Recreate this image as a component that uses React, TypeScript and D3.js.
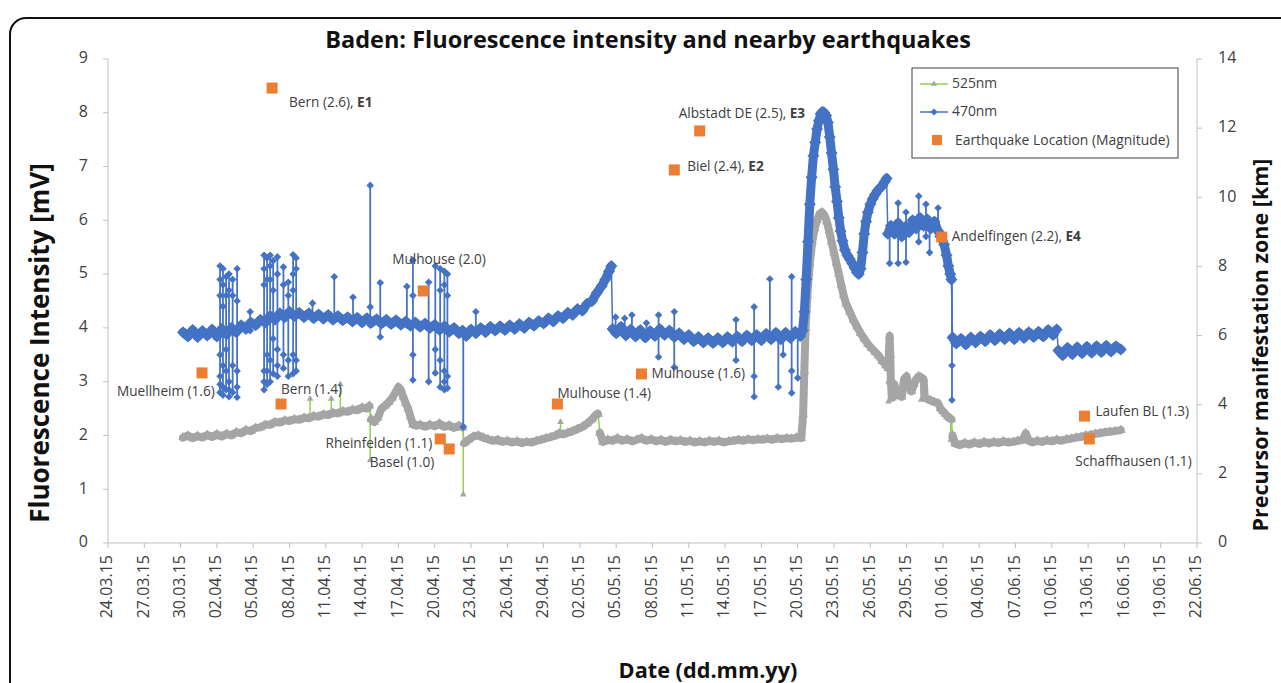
import React from "react";
import * as d3 from "d3";

const W = 1281;
const H = 683;
const M = { left: 108, right: 1197, top: 59, bottom: 543 };
const START = Date.UTC(2015, 2, 24);
const DAY = 864e5;
const FONT = "'Open Sans', 'DejaVu Sans', sans-serif";

// x values are days after 24.03.15
const tickDays = d3.range(0, 91, 3);
const leftTicks = [0, 1, 2, 3, 4, 5, 6, 7, 8, 9];
const rightTicks = [0, 2, 4, 6, 8, 10, 12, 14];

// 470nm fluorescence [mV]
const nm470: [number, number][] = [
  [6.2, 3.92], [6.6, 3.84], [7.0, 3.96], [7.4, 3.83], [7.8, 3.94], [8.2, 3.86], [8.6, 3.97], [9.0, 3.84],
  [9.4, 3.98], [9.8, 3.88], [10.2, 4.0], [10.6, 3.92], [11.0, 4.05], [11.4, 3.98], [11.8, 4.1], [12.2, 4.05],
  [12.6, 4.15], [13.0, 4.1], [13.4, 4.22], [13.8, 4.15], [14.2, 4.27], [14.6, 4.2], [15.0, 4.3], [15.4, 4.22],
  [15.8, 4.28], [16.2, 4.2], [16.6, 4.27], [17.0, 4.18], [17.4, 4.25], [17.8, 4.17], [18.2, 4.24], [18.6, 4.15],
  [19.0, 4.22], [19.4, 4.14], [19.8, 4.2], [20.2, 4.12], [20.6, 4.19], [21.0, 4.1], [21.4, 4.18], [21.8, 4.1],
  [22.2, 4.16], [22.6, 4.08], [23.0, 4.15], [23.4, 4.07], [23.8, 4.14], [24.2, 4.06], [24.6, 4.12], [25.0, 4.04],
  [25.4, 4.1], [25.8, 4.02], [26.2, 4.08], [26.6, 4.0], [27.0, 4.06], [27.4, 3.96], [27.8, 4.03], [28.2, 3.93],
  [28.6, 4.0], [29.0, 3.9], [29.3, 3.95], [29.6, 3.85], [30.0, 3.97], [30.4, 3.9], [30.8, 4.0], [31.2, 3.92],
  [31.6, 4.02], [32.0, 3.95], [32.4, 4.03], [32.8, 3.96], [33.2, 4.05], [33.6, 3.98], [34.0, 4.07], [34.4, 4.0],
  [34.8, 4.1], [35.2, 4.04], [35.6, 4.13], [36.0, 4.08], [36.4, 4.18], [36.8, 4.12], [37.2, 4.22], [37.6, 4.18],
  [38.0, 4.28], [38.4, 4.24], [38.8, 4.35], [39.2, 4.32], [39.6, 4.45], [40.0, 4.5], [40.4, 4.65], [40.8, 4.78],
  [41.1, 4.9], [41.4, 5.05], [41.6, 5.15], [41.7, 3.98], [42.0, 3.9], [42.4, 4.02], [42.8, 3.86], [43.2, 3.97],
  [43.6, 3.84], [44.0, 3.96], [44.4, 3.82], [44.8, 3.94], [45.2, 3.85], [45.6, 3.98], [46.0, 3.87], [46.4, 3.95],
  [46.8, 3.83], [47.2, 3.9], [47.6, 3.79], [48.0, 3.87], [48.4, 3.75], [48.8, 3.83], [49.2, 3.73], [49.6, 3.81],
  [50.0, 3.72], [50.4, 3.81], [50.8, 3.73], [51.2, 3.83], [51.6, 3.74], [52.0, 3.84], [52.4, 3.75], [52.8, 3.86],
  [53.2, 3.77], [53.6, 3.87], [54.0, 3.77], [54.4, 3.89], [54.8, 3.79], [55.2, 3.91], [55.6, 3.79], [56.0, 3.91],
  [56.4, 3.81], [56.8, 3.93], [57.2, 3.85], [57.4, 3.95], [57.55, 4.3], [57.7, 4.9], [57.85, 5.6], [58.0, 6.3],
  [58.15, 6.8], [58.3, 7.2], [58.45, 7.45], [58.6, 7.7], [58.75, 7.85], [58.9, 7.98], [59.05, 8.02], [59.2, 8.0],
  [59.35, 7.95], [59.5, 7.82], [59.65, 7.55], [59.8, 7.25], [59.95, 6.95], [60.1, 6.62], [60.25, 6.35], [60.4, 6.05],
  [60.55, 5.8], [60.7, 5.62], [60.9, 5.45], [61.1, 5.35], [61.3, 5.28], [61.5, 5.2], [61.7, 5.12], [61.9, 5.03],
  [62.05, 5.0], [62.2, 5.1], [62.35, 5.4], [62.5, 5.75], [62.65, 5.98], [62.8, 6.15], [63.0, 6.3], [63.2, 6.4],
  [63.4, 6.48], [63.6, 6.55], [63.8, 6.6], [64.0, 6.65], [64.2, 6.72], [64.35, 6.78], [64.45, 5.75], [64.7, 5.9],
  [65.0, 5.75], [65.3, 5.95], [65.6, 5.7], [65.9, 5.88], [66.2, 5.78], [66.5, 6.0], [66.8, 5.85], [67.1, 6.05],
  [67.4, 5.9], [67.7, 6.02], [68.0, 5.85], [68.3, 5.98], [68.6, 5.8], [68.9, 5.7], [69.1, 5.55], [69.3, 5.35],
  [69.45, 5.15], [69.6, 5.0], [69.7, 4.9], [69.8, 3.82], [70.1, 3.71], [70.5, 3.8], [70.9, 3.69], [71.3, 3.82],
  [71.7, 3.73], [72.1, 3.84], [72.5, 3.75], [72.9, 3.87], [73.3, 3.77], [73.7, 3.88], [74.1, 3.79], [74.5, 3.9],
  [74.9, 3.79], [75.3, 3.91], [75.7, 3.81], [76.1, 3.92], [76.5, 3.83], [76.9, 3.93], [77.3, 3.84], [77.7, 3.96],
  [78.1, 3.87], [78.4, 3.97], [78.55, 3.58], [78.9, 3.49], [79.3, 3.63], [79.7, 3.51], [80.1, 3.64], [80.5, 3.53],
  [80.9, 3.65], [81.3, 3.54], [81.7, 3.66], [82.1, 3.55], [82.5, 3.67], [82.9, 3.56], [83.3, 3.66], [83.7, 3.6],
];
// instants where the 470nm level steps abruptly
const jumps470 = [41.65, 64.4, 69.75, 78.5];

// short excursions of the 470nm signal: [day, values visited...]
const spikes470: number[][] = [
  [9.26, 2.8, 2.95, 3.1, 3.5, 3.9, 4.6, 4.9, 5.15], [9.5, 2.75, 2.9, 3.3, 4.4, 4.8, 5.1],
  [9.76, 2.85, 3.2, 3.6, 4.6, 4.95], [10.0, 2.72, 2.85, 3.0, 4.7, 5.0], [10.3, 2.8, 3.3, 4.6, 4.9],
  [10.67, 2.71, 2.9, 3.2, 4.5, 5.1],
  [11.75, 3.95, 4.3],
  [12.9, 2.85, 3.0, 3.2, 4.8, 5.1, 5.35], [13.15, 2.95, 3.2, 3.5, 4.9, 5.3], [13.4, 3.0, 3.4, 4.9, 5.15, 5.35],
  [13.65, 3.15, 3.8, 4.7, 5.25], [14.0, 3.1, 3.3, 3.6, 5.0, 5.32], [14.5, 3.25, 3.5, 4.8, 5.13],
  [14.9, 3.1, 3.4, 4.6, 4.85], [15.3, 3.15, 3.5, 4.7, 5.0, 5.36], [15.55, 3.2, 3.4, 5.1, 5.3],
  [16.9, 4.2, 4.46], [18.7, 4.15, 4.95], [20.25, 4.1, 4.57], [21.67, 4.05, 4.39, 6.65],
  [22.5, 3.83, 4.84], [24.7, 4.05, 4.77], [25.2, 3.03, 3.5, 4.6, 5.26],
  [26.5, 3.0, 4.85], [27.05, 3.16, 3.6, 5.15], [27.45, 2.9, 3.4, 4.7, 5.1],
  [27.8, 2.85, 3.0, 3.2, 4.8, 5.05], [28.05, 2.88, 3.1, 4.6, 5.0], [29.36, 2.16, 3.9],
  [30.4, 3.9, 4.3], [41.95, 3.9, 4.2], [42.7, 3.9, 4.18], [43.3, 3.9, 4.24], [44.5, 3.8, 4.09],
  [45.5, 3.46, 4.24], [46.8, 3.27, 4.3], [51.9, 3.4, 4.15], [53.4, 2.72, 3.1, 4.39],
  [54.7, 3.8, 4.91], [55.4, 2.9, 3.8], [55.8, 3.5, 3.8], [56.5, 2.79, 3.2, 4.95], [57.0, 3.07, 3.9],
  [64.6, 5.2, 5.9], [65.3, 5.2, 6.32], [65.95, 5.22, 6.15], [67.0, 5.6, 6.45], [67.6, 5.7, 6.3],
  [67.9, 5.4, 5.9], [68.6, 5.7, 6.23], [69.75, 2.66, 3.3, 4.9],
];

// 525nm fluorescence [mV]
const nm525: [number, number][] = [
  [6.2, 1.96], [6.6, 2.0], [7.0, 1.95], [7.4, 1.99], [7.8, 1.96], [8.2, 2.01], [8.6, 1.97], [9.0, 2.02],
  [9.4, 1.98], [9.8, 2.03], [10.2, 2.0], [10.6, 2.06], [11.0, 2.04], [11.4, 2.1], [11.8, 2.08], [12.2, 2.14],
  [12.6, 2.15], [13.0, 2.2], [13.4, 2.2], [13.8, 2.25], [14.2, 2.24], [14.6, 2.28], [15.0, 2.27], [15.4, 2.3],
  [15.8, 2.29], [16.2, 2.33], [16.6, 2.32], [17.0, 2.36], [17.4, 2.35], [17.8, 2.39], [18.2, 2.38], [18.6, 2.42],
  [19.0, 2.41], [19.4, 2.45], [19.8, 2.44], [20.2, 2.48], [20.6, 2.47], [21.0, 2.52], [21.4, 2.5], [21.6, 2.55],
  [21.75, 2.3], [22.0, 2.25], [22.3, 2.33], [22.6, 2.5], [22.9, 2.55], [23.2, 2.62], [23.5, 2.7], [23.8, 2.82],
  [24.0, 2.9], [24.2, 2.85], [24.4, 2.72], [24.6, 2.6], [24.8, 2.5], [25.0, 2.35], [25.2, 2.2], [25.5, 2.18],
  [25.8, 2.2], [26.2, 2.16], [26.6, 2.2], [27.0, 2.17], [27.4, 2.22], [27.8, 2.16], [28.2, 2.19], [28.6, 2.14],
  [29.0, 2.18], [29.3, 2.15], [29.45, 1.86], [29.8, 1.92], [30.2, 1.98], [30.6, 2.0], [31.0, 1.96], [31.4, 1.93],
  [31.8, 1.9], [32.2, 1.92], [32.6, 1.88], [33.0, 1.9], [33.4, 1.87], [33.8, 1.89], [34.2, 1.86], [34.6, 1.88],
  [35.0, 1.87], [35.4, 1.9], [35.8, 1.92], [36.2, 1.95], [36.6, 1.97], [37.0, 2.0], [37.3, 2.04], [37.6, 2.02],
  [38.0, 2.05], [38.4, 2.08], [38.8, 2.12], [39.2, 2.16], [39.6, 2.22], [40.0, 2.3], [40.3, 2.38], [40.5, 2.4],
  [40.65, 2.05], [40.9, 1.88], [41.3, 1.92], [41.7, 1.9], [42.1, 1.95], [42.5, 1.9], [42.9, 1.93], [43.3, 1.89],
  [43.7, 1.92], [44.1, 1.95], [44.5, 1.9], [44.9, 1.93], [45.3, 1.89], [45.7, 1.92], [46.1, 1.88], [46.5, 1.92],
  [46.9, 1.89], [47.3, 1.91], [47.7, 1.88], [48.1, 1.9], [48.5, 1.87], [48.9, 1.89], [49.3, 1.87], [49.7, 1.9],
  [50.1, 1.88], [50.5, 1.9], [50.9, 1.87], [51.3, 1.89], [51.7, 1.9], [52.1, 1.92], [52.5, 1.9], [52.9, 1.93],
  [53.3, 1.91], [53.7, 1.93], [54.1, 1.92], [54.5, 1.94], [54.9, 1.92], [55.3, 1.95], [55.7, 1.93], [56.1, 1.95],
  [56.5, 1.94], [56.9, 1.96], [57.3, 1.95], [57.45, 2.4], [57.55, 3.2], [57.65, 4.0], [57.8, 4.6], [58.0, 5.2],
  [58.2, 5.6], [58.4, 5.85], [58.6, 6.0], [58.8, 6.12], [59.0, 6.15], [59.2, 6.1], [59.4, 5.98], [59.6, 5.8],
  [59.8, 5.6], [60.0, 5.4], [60.2, 5.2], [60.4, 5.0], [60.6, 4.8], [60.8, 4.6], [61.0, 4.45], [61.3, 4.3],
  [61.6, 4.15], [61.9, 4.02], [62.2, 3.9], [62.5, 3.8], [62.8, 3.7], [63.1, 3.62], [63.4, 3.55], [63.7, 3.48],
  [64.0, 3.38], [64.3, 3.3], [64.5, 3.25], [64.55, 3.6], [64.6, 3.85], [64.65, 3.5], [64.7, 3.0], [64.8, 2.7],
  [65.0, 2.95], [65.2, 2.75], [65.4, 2.8], [65.6, 2.72], [65.8, 3.05], [66.0, 3.1], [66.2, 2.9], [66.4, 2.82],
  [66.6, 2.95], [66.8, 3.05], [67.0, 3.1], [67.2, 3.08], [67.4, 3.05], [67.5, 2.7], [67.7, 2.68], [68.0, 2.65],
  [68.3, 2.62], [68.6, 2.6], [68.8, 2.5], [69.0, 2.45], [69.2, 2.4], [69.4, 2.35], [69.6, 2.32], [69.7, 2.3],
  [69.8, 2.0], [70.0, 1.85], [70.4, 1.82], [70.8, 1.86], [71.2, 1.83], [71.6, 1.87], [72.0, 1.84], [72.4, 1.88],
  [72.8, 1.85], [73.2, 1.88], [73.6, 1.86], [74.0, 1.89], [74.4, 1.87], [74.8, 1.88], [75.2, 1.9], [75.6, 1.92],
  [75.85, 2.04], [76.1, 1.9], [76.4, 1.87], [76.8, 1.9], [77.2, 1.88], [77.6, 1.91], [78.0, 1.89], [78.4, 1.92],
  [78.8, 1.9], [79.2, 1.93], [79.6, 1.94], [80.0, 1.96], [80.4, 1.97], [80.8, 2.0], [81.2, 2.01], [81.6, 2.03],
  [82.0, 2.04], [82.4, 2.06], [82.8, 2.07], [83.2, 2.08], [83.7, 2.1],
];
const jumps525 = [21.7, 29.4, 40.6, 69.75];

const spikes525: number[][] = [
  [16.7, 2.33, 2.68], [18.45, 2.38, 2.68], [19.2, 2.42, 2.95], [21.67, 1.54, 2.55],
  [29.36, 0.9, 2.15], [37.4, 2.0, 2.25], [64.5, 2.63, 3.0], [67.2, 2.66, 3.09], [69.65, 1.92, 2.33],
];

// earthquakes: day after 24.03.15, precursor zone [km]
const quakePlace = ["Bern", "Albstadt DE", "Biel", "Mulhouse", "Andelfingen", "Muellheim", "Bern",
  "Rheinfelden", "Basel", "Mulhouse", "Mulhouse", "Laufen BL", "Schaffhausen"];
const quakeMag = [2.6, 2.5, 2.4, 2.0, 2.2, 1.6, 1.4, 1.1, 1.0, 1.4, 1.6, 1.3, 1.1];
const quakeEvent = ["E1", "E3", "E2", "", "E4", "", "", "", "", "", "", "", ""];
const quakeDay = [13.56, 48.9, 46.8, 26.05, 68.9, 7.77, 14.3, 27.46, 28.2, 37.14, 44.09, 80.7, 81.1];
const quakeKm = [13.16, 11.92, 10.79, 7.29, 8.85, 4.92, 4.02, 3.01, 2.72, 4.02, 4.89, 3.67, 3.01];

// label placement per quake: dx, dy, anchor
const quakeLabelPos: [number, number, string][] = [
  [17, 15, "start"], [-21, -17, "start"], [13, -3, "start"], [-31, -31, "start"], [10, 0, "start"],
  [-85, 19, "start"], [0, -14, "start"], [-8, 5, "end"], [-15, 14, "end"], [0, -10, "start"],
  [10, 0, "start"], [11, -4, "start"], [-14, 23, "start"],
];

const BLUE = "#4472C4";
const GRAY = "#A5A5A5";
const GREEN = "#92D050";
const ORANGE = "#ED7D31";
const AXIS = "#BFBFBF";
const TEXT = "#404040";

const diamond = (r: number) => `M0,${-r}L${r},0L0,${r}L${-r},0Z`;
const triangle = (r: number) => `M0,${-r}L${r * 0.87},${r * 0.5}L${-r * 0.87},${r * 0.5}Z`;

// split a series into runs between abrupt steps
function splitAt(data: [number, number][], cuts: number[]) {
  const parts: [number, number][][] = [[]];
  let c = 0;
  data.forEach((d) => {
    while (c < cuts.length && d[0] > cuts[c]) {
      parts.push([]);
      c++;
    }
    parts[parts.length - 1].push(d);
  });
  return parts.filter((p) => p.length > 0);
}

export default function App() {
  const x = d3.scaleUtc().domain([new Date(START), new Date(START + 90 * DAY)]).range([M.left, M.right]);
  const dx = (d: number) => x(new Date(START + d * DAY));
  const y = d3.scaleLinear().domain([0, 9]).range([M.bottom, M.top]);
  const yKm = d3.scaleLinear().domain([0, 14]).range([M.bottom, M.top]);
  const fmt = d3.utcFormat("%d.%m.%y");

  const line = d3.line<[number, number]>().x((d) => dx(d[0])).y((d) => y(d[1]));
  const runs470 = splitAt(nm470, jumps470);
  const runs525 = splitAt(nm525, jumps525);

  return (
    <svg width={W} height={H} style={{ position: "absolute", left: 0, top: 0, background: "#fff" }} fontFamily={FONT}>
      <rect x={10} y={18} width={1400} height={800} rx={16} fill="none" stroke="#111" strokeWidth={2} />

      <text x={648} y={42} textAnchor="middle" dominantBaseline="middle" fontSize={23.5} fontWeight="bold" fill="#111">
        Baden: Fluorescence intensity and nearby earthquakes
      </text>

      {/* axes */}
      <line x1={M.left} x2={M.left} y1={M.top} y2={M.bottom} stroke={AXIS} />
      <line x1={M.right} x2={M.right} y1={M.top} y2={M.bottom} stroke={AXIS} />
      <line x1={M.left} x2={M.right} y1={M.bottom} y2={M.bottom} stroke={AXIS} />
      {leftTicks.map((t) => (
        <g key={"l" + t}>
          <line x1={M.left - 5} x2={M.left} y1={y(t)} y2={y(t)} stroke={AXIS} />
          <text x={M.left - 20} y={y(t)} textAnchor="end" dominantBaseline="middle" fontSize={16} fill={TEXT}>{t}</text>
        </g>
      ))}
      {rightTicks.map((t) => (
        <g key={"r" + t}>
          <line x1={M.right} x2={M.right + 5} y1={yKm(t)} y2={yKm(t)} stroke={AXIS} />
          <text x={M.right + 21} y={yKm(t)} textAnchor="start" dominantBaseline="middle" fontSize={16} fill={TEXT}>{t}</text>
        </g>
      ))}
      {tickDays.map((d) => (
        <g key={"x" + d}>
          <line x1={dx(d)} x2={dx(d)} y1={M.bottom} y2={M.bottom + 5} stroke={AXIS} />
          <text transform={`translate(${dx(d)},${M.bottom + 12}) rotate(-90)`} textAnchor="end" dominantBaseline="middle"
            fontSize={16} fill={TEXT}>{fmt(new Date(START + d * DAY))}</text>
        </g>
      ))}

      <text transform="translate(42,343) rotate(-90)" textAnchor="middle" dominantBaseline="middle" fontSize={26} fontWeight="bold" fill="#111">
        Fluorescence Intensity [mV]
      </text>
      <text transform="translate(1262,345) rotate(-90)" textAnchor="middle" dominantBaseline="middle" fontSize={21.5} fontWeight="bold" fill="#111">
        Precursor manifestation zone [km]
      </text>
      <text x={708} y={672} textAnchor="middle" dominantBaseline="middle" fontSize={21.7} fontWeight="bold" fill="#111">
        Date (dd.mm.yy)
      </text>

      {/* 525nm */}
      <path d={line(nm525) || ""} fill="none" stroke={GREEN} strokeWidth={1.5} />
      {spikes525.map((s, i) => (
        <line key={"gs" + i} x1={dx(s[0])} x2={dx(s[0])} y1={y(d3.min(s.slice(1))!)} y2={y(d3.max(s.slice(1))!)} stroke={GREEN} strokeWidth={1.5} />
      ))}
      {runs525.map((r, i) => (
        <path key={"gr" + i} d={line(r) || ""} fill="none" stroke={GRAY} strokeWidth={8} strokeLinejoin="round" strokeLinecap="round" />
      ))}
      {nm525.map((d, i) => (
        <path key={"g" + i} d={triangle(5.5)} transform={`translate(${dx(d[0])},${y(d[1])})`} fill={GRAY} />
      ))}
      {spikes525.map((s, i) =>
        s.slice(1).map((v, j) => (
          <path key={"gm" + i + "_" + j} d={triangle(3.8)} transform={`translate(${dx(s[0])},${y(v)})`} fill={GRAY} />
        ))
      )}

      {/* 470nm */}
      {spikes470.map((s, i) => (
        <line key={"bs" + i} x1={dx(s[0])} x2={dx(s[0])} y1={y(d3.min(s.slice(1))!)} y2={y(d3.max(s.slice(1))!)} stroke={BLUE} strokeWidth={1.8} />
      ))}
      <path d={line(nm470) || ""} fill="none" stroke={BLUE} strokeWidth={1.5} />
      {runs470.map((r, i) => (
        <path key={"br" + i} d={line(r) || ""} fill="none" stroke={BLUE} strokeWidth={9} strokeLinejoin="round" strokeLinecap="round" />
      ))}
      {nm470.map((d, i) => (
        <path key={"b" + i} d={diamond(6)} transform={`translate(${dx(d[0])},${y(d[1])})`} fill={BLUE} />
      ))}
      {spikes470.map((s, i) =>
        s.slice(1).map((v, j) => (
          <path key={"bm" + i + "_" + j} d={diamond(3.8)} transform={`translate(${dx(s[0])},${y(v)})`} fill={BLUE} />
        ))
      )}

      {/* earthquakes */}
      {quakeDay.map((d, i) => {
        const cx = dx(d);
        const cy = yKm(quakeKm[i]);
        const [ox, oy, anchor] = quakeLabelPos[i];
        return (
          <g key={"q" + i}>
            <rect x={cx - 5.5} y={cy - 5.5} width={11} height={11} fill={ORANGE} />
            <text x={cx + ox} y={cy + oy} textAnchor={anchor as any} dominantBaseline="middle" fontSize={13.6} fill={TEXT}>
              {`${quakePlace[i]} (${quakeMag[i].toFixed(1)})`}
              {quakeEvent[i] && <tspan>, </tspan>}
              {quakeEvent[i] && <tspan fontWeight="bold">{quakeEvent[i]}</tspan>}
            </text>
          </g>
        );
      })}

      {/* legend */}
      <rect x={912} y={68} width={266} height={90} fill="#fff" stroke="#404040" strokeWidth={1} />
      <line x1={920} x2={948} y1={84} y2={84} stroke={GREEN} strokeWidth={1.5} />
      <path d={triangle(3.5)} transform="translate(934,84)" fill={GRAY} />
      <text x={952} y={84} dominantBaseline="middle" fontSize={13.9} fill={TEXT}>525nm</text>
      <line x1={920} x2={948} y1={112} y2={112} stroke={BLUE} strokeWidth={1.5} />
      <path d={diamond(3.5)} transform="translate(934,112)" fill={BLUE} />
      <text x={952} y={112} dominantBaseline="middle" fontSize={13.9} fill={TEXT}>470nm</text>
      <rect x={932} y={135} width={10} height={10} fill={ORANGE} />
      <text x={955} y={141} dominantBaseline="middle" fontSize={13.9} fill={TEXT}>Earthquake Location (Magnitude)</text>
    </svg>
  );
}
